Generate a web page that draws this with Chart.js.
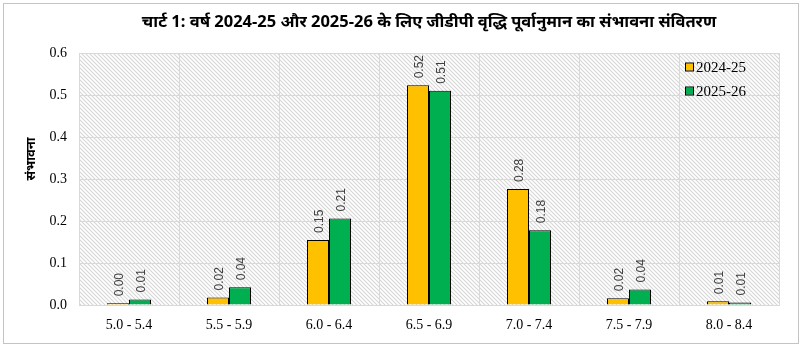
<!DOCTYPE html>
<html>
<head>
<meta charset="utf-8">
<script src="https://cdn.jsdelivr.net/npm/chart.js@4"></script>
<style>
  html, body { margin: 0; padding: 0; background: #fff; }
  #wrap { width: 802px; height: 345px; }
</style>
</head>
<body>
<div id="wrap"><canvas id="chart" width="802" height="345"></canvas></div>
<script>
// GDP growth range buckets and the probability for each forecast year
const categories = ['5.0 - 5.4', '5.5 - 5.9', '6.0 - 6.4', '6.5 - 6.9', '7.0 - 7.4', '7.5 - 7.9', '8.0 - 8.4'];
const seriesNames = ['2024-25', '2025-26'];
const prob2024 = [0.004, 0.018, 0.155, 0.523, 0.276, 0.016, 0.009];
const prob2025 = [0.013, 0.042, 0.206, 0.510, 0.178, 0.037, 0.006];
const yTicks = [0.0, 0.1, 0.2, 0.3, 0.4, 0.5, 0.6];

const chartTitle = 'चार्ट 1: वर्ष 2024-25 और 2025-26 के लिए जीडीपी वृद्धि पूर्वानुमान का संभावना संवितरण';
const yTitle = 'संभावना';

const colors = ['#FFC000', '#00B050'];
const serif = "'Liberation Serif', 'DejaVu Serif', serif";
const sans = "'Liberation Sans', Arial, sans-serif";
const hindi = "'Noto Sans', 'Noto Sans Devanagari', sans-serif";

// diagonal hatch used behind the plot area
function makeHatch() {
    const tile = document.createElement('canvas');
    tile.width = 4;
    tile.height = 4;
    const t = tile.getContext('2d');
    t.fillStyle = '#fff';
    t.fillRect(0, 0, 4, 4);
    t.strokeStyle = '#d6d6d6';
    t.lineWidth = 1.1;
    t.beginPath();
    t.moveTo(-1, -1); t.lineTo(5, 5);
    t.moveTo(-1, 3); t.lineTo(1, 5);
    t.moveTo(3, -1); t.lineTo(5, 1);
    t.stroke();
    return tile;
}

const backgroundPlugin = {
    id: 'backgroundPlugin',
    beforeDraw(chart) {
        const ctx = chart.ctx;
        const a = chart.chartArea;
        ctx.save();
        ctx.fillStyle = '#fff';
        ctx.fillRect(0, 0, chart.width, chart.height);
        ctx.strokeStyle = '#c4c4c4';
        ctx.lineWidth = 1;
        ctx.strokeRect(3.5, 3.5, chart.width - 7, chart.height - 5);
        ctx.fillStyle = ctx.createPattern(makeHatch(), 'repeat');
        ctx.fillRect(a.left, a.top, a.right - a.left, a.bottom - a.top);
        ctx.restore();
    }
};

// rotated value labels above each bar
const valueLabels = {
    id: 'valueLabels',
    afterDatasetsDraw(chart) {
        const ctx = chart.ctx;
        ctx.save();
        ctx.font = '12px ' + sans;
        ctx.fillStyle = '#404040';
        ctx.textAlign = 'left';
        ctx.textBaseline = 'middle';
        chart.data.datasets.forEach((ds, i) => {
            chart.getDatasetMeta(i).data.forEach((bar, j) => {
                ctx.save();
                ctx.translate(bar.x + 2, bar.y - 7);
                ctx.rotate(-Math.PI / 2);
                ctx.fillText(ds.data[j].toFixed(2), 0, 0);
                ctx.restore();
            });
        });
        ctx.restore();
    }
};

// title, axis title and the legend inside the plot
const textPlugin = {
    id: 'textPlugin',
    afterDraw(chart) {
        const ctx = chart.ctx;
        const a = chart.chartArea;
        ctx.save();
        ctx.fillStyle = '#000';
        ctx.textAlign = 'center';
        ctx.textBaseline = 'middle';
        ctx.font = 'bold 16.5px ' + hindi;
        ctx.fillText(chartTitle, (a.left + a.right) / 2, 22);

        ctx.save();
        ctx.translate(31, 159);
        ctx.rotate(-Math.PI / 2);
        ctx.font = 'bold 13px ' + hindi;
        ctx.fillText(yTitle, 0, 0);
        ctx.restore();

        ctx.textAlign = 'left';
        ctx.font = '15px ' + serif;
        seriesNames.forEach((name, i) => {
            const y = 67 + i * 24;
            ctx.fillStyle = colors[i];
            ctx.fillRect(686, y - 3.5, 7, 7);
            ctx.strokeStyle = '#000';
            ctx.lineWidth = 1;
            ctx.strokeRect(685.5, y - 4, 8, 8);
            ctx.fillStyle = '#000';
            ctx.fillText(name, 696, y + 1);
        });
        ctx.restore();
    }
};

new Chart(document.getElementById('chart'), {
    type: 'bar',
    data: {
        labels: categories,
        datasets: [
            {
                label: seriesNames[0],
                data: prob2024,
                backgroundColor: colors[0],
                borderColor: '#000',
                borderWidth: 1,
                categoryPercentage: 0.44,
                barPercentage: 1.0
            },
            {
                label: seriesNames[1],
                data: prob2025,
                backgroundColor: colors[1],
                borderColor: '#000',
                borderWidth: 1,
                categoryPercentage: 0.44,
                barPercentage: 1.0
            }
        ]
    },
    options: {
        responsive: false,
        animation: false,
        devicePixelRatio: 1,
        layout: { padding: { top: 53, right: 23, left: 0, bottom: 0 } },
        scales: {
            x: {
                afterFit: scale => { scale.height = 40; },
                grid: { color: '#d9d9d9', drawTicks: false, offset: true },
                border: { color: '#d9d9d9' },
                ticks: {
                    padding: 12,
                    color: '#000',
                    font: { family: serif, size: 14 }
                }
            },
            y: {
                min: 0,
                max: 0.6,
                afterFit: scale => { scale.width = 79; },
                afterBuildTicks: scale => {
                    scale.ticks = yTicks.map(v => ({ value: v }));
                },
                grid: { color: '#d9d9d9', drawTicks: false },
                border: { color: '#d9d9d9' },
                ticks: {
                    padding: 12,
                    color: '#000',
                    font: { family: serif, size: 14 },
                    callback: v => Number(v).toFixed(1)
                }
            }
        },
        plugins: {
            legend: { display: false },
            tooltip: { enabled: false }
        }
    },
    plugins: [backgroundPlugin, valueLabels, textPlugin]
});
</script>
</body>
</html>
